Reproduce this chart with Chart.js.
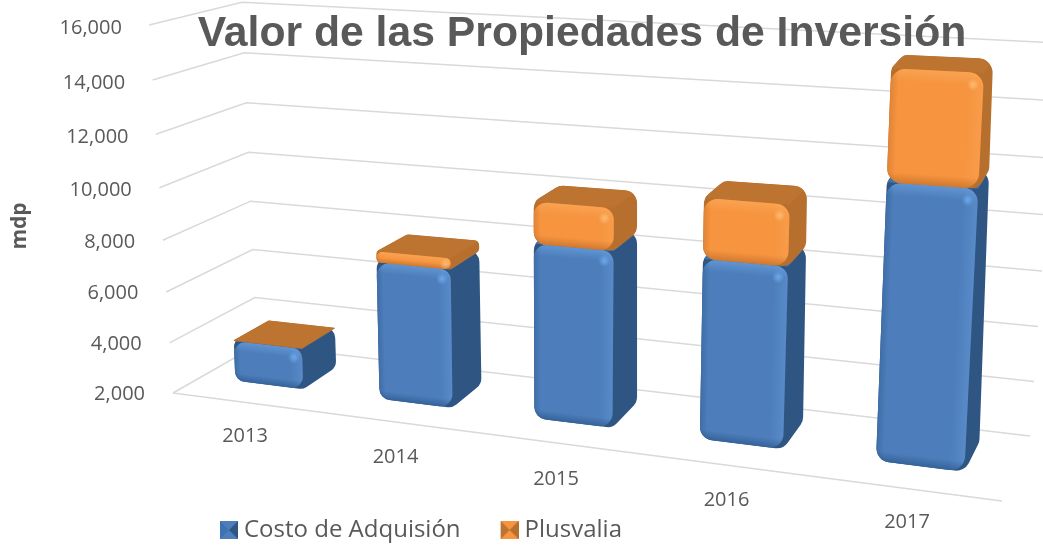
<!DOCTYPE html>
<html lang="es">
<head>
<meta charset="utf-8">
<title>Valor de las Propiedades de Inversión</title>
<script src="https://cdn.jsdelivr.net/npm/chart.js@4/dist/chart.umd.js"></script>
<style>html,body{margin:0;padding:0;background:#fff}canvas{display:block}</style>
</head>
<body>
<canvas id="c" width="1043" height="546"></canvas>
<script>
const categories = ['2013', '2014', '2015', '2016', '2017'];
const costoAdquisicion = [3500, 7000, 8200, 8200, 11300];
const plusvalia = [30, 400, 1500, 2100, 3800];
const titleText = 'Valor de las Propiedades de Inversión';
const yTitle = 'mdp';

const TEXT = '#595959', GRID = '#d9d9d9';
const BLUE = {main:'#4d7ebb', side:'#2f5583', top:'#3f72b0', spot:'120,185,255', edge:'30,70,120', band:'120,175,240'};
const ORANGE = {main:'#f69440', side:'#b66f2c', top:'#bd7430', spot:'255,205,130', edge:'170,95,30', band:'255,180,100'};

/* perspective of the picture: flat (category index, thousands above the floor) -> page */
const frontX = i => 269 + 141.4 * i + 5.33 * i * i;
const pxPerThousand = x => 26.5 + (x - 236) * 0.0054;
function project(i, w) {
  const x0 = frontX(i), H = w * pxPerThousand(x0);
  return {x: x0 + (x0 - 560) * 0.000122 * H, y: 381 + 0.125 * (x0 - 238) - H, H};
}
function toBack(p) {
  return {x: p.x + 33 - 0.027 * (p.x - 300) - 0.00002 * p.H * (p.x - 300),
          y: p.y - (22 + 0.012 * (p.x - 300)) + p.H * 0.04};
}
function roundPoly(ctx, pts, r) {
  const n = pts.length;
  const d = (a, b) => Math.hypot(a.x - b.x, a.y - b.y);
  ctx.beginPath();
  ctx.moveTo((pts[n - 1].x + pts[0].x) / 2, (pts[n - 1].y + pts[0].y) / 2);
  for (let k = 0; k < n; k++) {
    const p = pts[k], q = pts[(k + 1) % n], o = pts[(k + n - 1) % n];
    const rr = Math.min(r, d(p, q) / 2, d(p, o) / 2);
    ctx.arcTo(p.x, p.y, q.x, q.y, Math.max(rr, 0.01));
  }
  ctx.closePath();
}
function band(ctx, a, b, inner, width, rgb, alpha) {
  const mx = (a.x + b.x) / 2, my = (a.y + b.y) / 2;
  let nx = -(b.y - a.y), ny = b.x - a.x;
  const L = Math.hypot(nx, ny) || 1; nx /= L; ny /= L;
  if ((inner.x - mx) * nx + (inner.y - my) * ny < 0) { nx = -nx; ny = -ny; }
  const g = ctx.createLinearGradient(mx, my, mx + nx * width, my + ny * width);
  g.addColorStop(0, `rgba(${rgb},${alpha})`);
  g.addColorStop(1, `rgba(${rgb},0)`);
  ctx.fillStyle = g;
  ctx.fillRect(0, 0, 1043, 546);
}
function drawSolid(ctx, i0, i1, w0, w1, pal) {
  const fl = project(i0, w0), fr = project(i1, w0), tl = project(i0, w1), tr = project(i1, w1);
  const bfr = toBack(fr), btr = toBack(tr), btl = toBack(tl);
  const h = Math.hypot(tl.x - fl.x, tl.y - fl.y), wid = fr.x - fl.x;
  const r = Math.min(wid * 0.16, h / 2 + 1.5);
  ctx.save();
  ctx.save();
  roundPoly(ctx, [fl, fr, bfr, btr, btl, tl], Math.max(r, 1.5));
  ctx.fillStyle = pal.side; ctx.fill(); ctx.clip();
  ctx.beginPath();
  ctx.moveTo(tl.x, tl.y); ctx.lineTo(tr.x, tr.y); ctx.lineTo(btr.x, btr.y); ctx.lineTo(btl.x, btl.y); ctx.closePath();
  ctx.fillStyle = pal.top; ctx.fill();
  ctx.restore();
  if (h > 3) {
    roundPoly(ctx, [fl, fr, tr, tl], r);
    ctx.fillStyle = pal.main; ctx.fill(); ctx.clip();
    const c = {x: (fl.x + tr.x) / 2, y: (fl.y + tr.y) / 2}, bw = Math.max(r * 0.9, 3);
    band(ctx, tl, tr, c, bw, pal.band, 0.45);
    band(ctx, fl, tl, c, bw * 0.6, pal.edge, 0.3);
    band(ctx, fr, tr, c, bw * 1.2, pal.band, 0.25);
    band(ctx, fl, fr, c, bw * 0.8, pal.edge, 0.5);
    const sx = tr.x - r * 0.75, sy = tr.y + r * 0.8;
    const g = ctx.createRadialGradient(sx, sy, 0, sx, sy, 6);
    g.addColorStop(0, `rgba(${pal.spot},.7)`);
    g.addColorStop(1, `rgba(${pal.spot},0)`);
    ctx.fillStyle = g; ctx.fillRect(sx - 7, sy - 7, 14, 14);
  }
  ctx.restore();
}
class Bar3D extends Chart.BarController {
  draw() {
    /* Chart.js paints the last dataset first; the stack has to be painted bottom-up */
    if (this.index !== 0) return;
    const chart = this.chart, ctx = chart.ctx;
    [0, 1].forEach(d => {
      const meta = chart.getDatasetMeta(d);
      const xs = meta.iScale, ys = meta.vScale;
      const step = xs.getPixelForValue(1) - xs.getPixelForValue(0), x00 = xs.getPixelForValue(0);
      const pal = d === 0 ? BLUE : ORANGE;
      meta.data.forEach(el => {
        const i0 = (el.x - el.width / 2 - x00) / step, i1 = (el.x + el.width / 2 - x00) / step;
        const w0 = Math.max(0, (ys.getValueForPixel(el.base) - ys.min) / 1000);
        const w1 = (ys.getValueForPixel(el.y) - ys.min) / 1000;
        drawSolid(ctx, i0, i1, w0, w1, pal);
      });
    });
  }
}
Bar3D.id = 'bar3d';
Bar3D.defaults = Chart.BarController.defaults;
Bar3D.overrides = Chart.BarController.overrides;
Chart.register(Bar3D);

function marker(pal) {
  const cv = document.createElement('canvas');
  cv.width = 24; cv.height = 18;
  const c = cv.getContext('2d');
  const x = 6, s = 18, m = {x: x + 9, y: 9};
  c.fillStyle = pal.main; c.fillRect(x, 0, s, s);
  const tri = (a, b, col) => { c.beginPath(); c.moveTo(a[0], a[1]); c.lineTo(b[0], b[1]); c.lineTo(m.x, m.y); c.closePath(); c.fillStyle = col; c.fill(); };
  tri([x, 0], [x, s], pal.top);
  tri([x + s, 0], [x + s, s], pal.side);
  return cv;
}
const markers = [marker(BLUE), marker(ORANGE)];

const perspectivePlugin = {
  id: 'perspective',
  beforeDraw(chart) {
    const ctx = chart.ctx, ys = chart.scales.y, xs = chart.scales.x;
    ctx.save();
    ctx.fillStyle = '#fff'; ctx.fillRect(0, 0, chart.width, chart.height);
    ctx.strokeStyle = GRID; ctx.lineWidth = 1.5;
    ys.ticks.forEach(t => {
      const w = (t.value - ys.min) / 1000;
      ctx.beginPath();
      ctx.moveTo(173 - 1.7 * w, 393 - (24.83 * w + 0.104 * w * w));
      ctx.lineTo(257 - 1.07 * w, 345 - (23.6 * w + 0.0625 * w * w));
      ctx.lineTo(1030 + 2 * w, 436 - (27.1 * w + 0.07 * w * w));
      ctx.stroke();
    });
    ctx.beginPath(); ctx.moveTo(173, 393); ctx.lineTo(1002, 501); ctx.stroke();
    ctx.restore();

    ys.getLabelItems().forEach((it, k) => {
      const w = (ys.ticks[k].value - ys.min) / 1000;
      it.textOffset = 0;
      it.options.textAlign = 'right'; it.options.textBaseline = 'middle';
      it.options.translation = [145 - 1.65 * w, 394 - (24.7 * w + 0.1 * w * w)];
    });
    xs.getLabelItems().forEach((it, k) => {
      it.textOffset = 0;
      it.options.textAlign = 'center'; it.options.textBaseline = 'middle';
      it.options.translation = [245 + 145.5 * k + 5 * k * k, 436 + 21.5 * k];
    });
    ys.left = 20 - 21 * 1.2 / 2; ys.right = 170;
    ys.top = 60; ys.bottom = 392;
    xs.top = 0; xs.bottom = 546;

    const tb = chart.titleBlock, tf = 42.7 * 1.2;
    tb.left = 101; tb.right = 1063; tb.top = 34.5 - tf / 2 - tb.options.padding;
    const lg = chart.legend, lp = lg.options.labels.padding, fs = lg.options.labels.font.size;
    lg.left = 220 - lp; lg.right = 1043; lg.top = 530 - fs / 2 - lp;
  }
};

new Chart(document.getElementById('c'), {
  type: 'bar3d',
  data: {
    labels: categories,
    datasets: [
      {label: 'Costo de Adquisión', data: costoAdquisicion, backgroundColor: BLUE.main, clip: false},
      {label: 'Plusvalia', data: plusvalia, backgroundColor: ORANGE.main, clip: false}
    ]
  },
  options: {
    responsive: false,
    animation: false,
    layout: {padding: {right: 40}},
    barPercentage: 0.48,
    categoryPercentage: 1,
    scales: {
      x: {stacked: true, grid: {display: false}, border: {display: false},
          ticks: {color: TEXT, font: {family: '"Open Sans"', size: 20}, maxRotation: 0, autoSkip: false, padding: 30}},
      y: {stacked: true, min: 2000, max: 16000, grid: {display: false}, border: {display: false},
          title: {display: true, text: yTitle, color: TEXT, font: {family: '"Open Sans"', size: 21, weight: 'bold'}, padding: 0},
          ticks: {stepSize: 2000, color: TEXT, font: {family: '"Open Sans"', size: 20},
                  callback: v => Number(v).toLocaleString('en-US')}}
    },
    plugins: {
      tooltip: {enabled: false},
      title: {display: true, text: titleText, color: TEXT, padding: 4,
              font: {family: '"Liberation Sans"', size: 42.7, weight: 'bold'}},
      legend: {position: 'bottom', align: 'start',
        labels: {color: TEXT, font: {family: '"Open Sans"', size: 24}, padding: 40,
                 usePointStyle: true, pointStyleWidth: 12, boxHeight: 18,
                 generateLabels(chart) {
                   return Chart.defaults.plugins.legend.labels.generateLabels(chart).map((l, i) => {
                     l.pointStyle = markers[i]; return l;
                   });
                 }}}
    }
  },
  plugins: [perspectivePlugin]
});
</script>
</body>
</html>
